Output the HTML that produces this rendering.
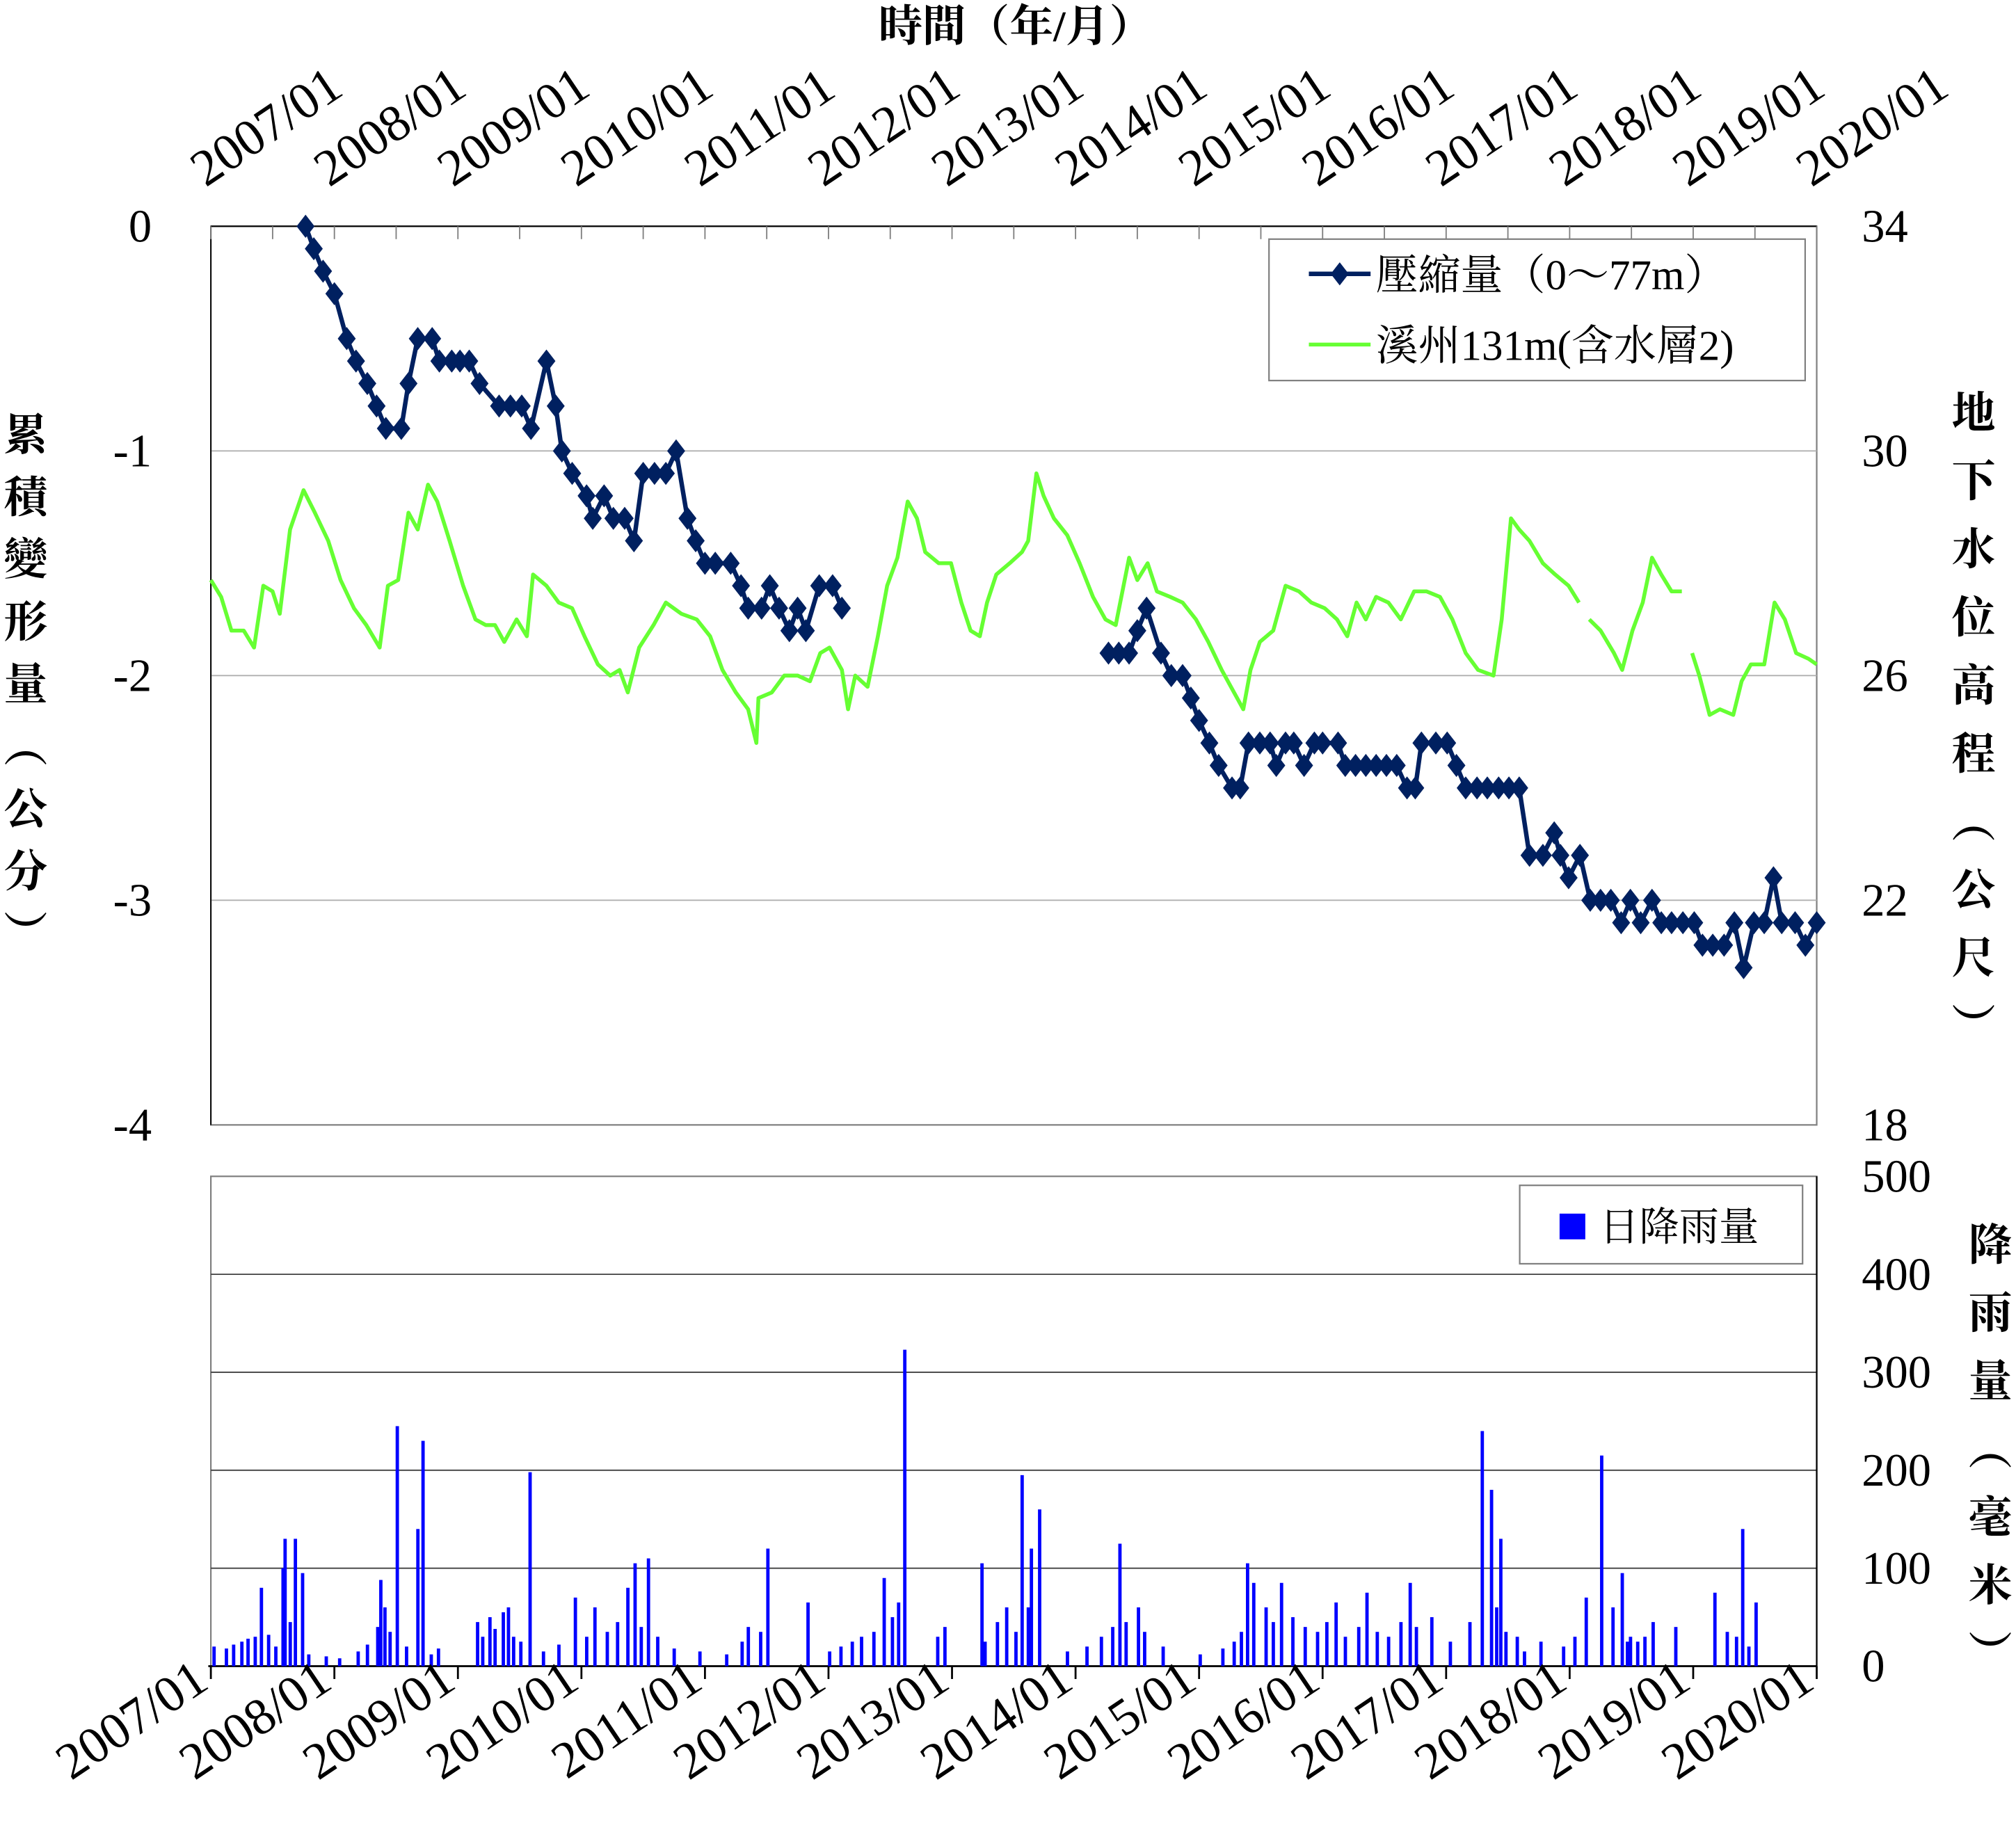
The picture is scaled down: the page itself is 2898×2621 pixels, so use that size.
<!DOCTYPE html>
<html><head><meta charset="utf-8"><style>
html,body{margin:0;padding:0;background:#fff;}
svg{display:block;}
</style></head><body>
<svg id="chart" width="2898" height="2621" viewBox="0 0 1568 1418" preserveAspectRatio="none" xmlns="http://www.w3.org/2000/svg" font-family="'Liberation Serif', 'Noto Serif CJK SC', serif">
<rect x="0" y="0" width="1568" height="1418" fill="#fff"/>
<g id="g"></g>
</svg>
<script>
// ---- data ----
const yearLabels = ["2007/01","2008/01","2009/01","2010/01","2011/01","2012/01","2013/01","2014/01","2015/01","2016/01","2017/01","2018/01","2019/01","2020/01"];
const leftTicks = [0,-1,-2,-3,-4];
const rightTicks = [34,30,26,22,18];
const rainTicks = [500,400,300,200,100,0];
const compMonths = [9.2,10,10.9,12,13.2,14.1,15.2,16.1,17,18.5,19.2,20.1,21.5,22.2,23.4,24.2,25.1,26.1,28,29.1,30.2,31.1,32.6,33.5,34.1,35.1,36.5,37.1,38.2,39.1,40.2,41.1,42,43.1,44.2,45.2,46.3,47.1,48,49,50.5,51.5,52.2,53.5,54.3,55.2,56.2,57,57.8,59.1,60.4,61.3,null,
87.2,88.2,89.2,90,90.9,92.3,93.3,94.4,95.2,96,97,97.9,99.2,100,100.8,101.9,102.9,103.5,104.4,105.2,106.2,107.2,108,109.5,110.2,111.2,112.2,113.2,114.2,115.2,116.2,117,117.6,119,120.1,121,121.9,123,124,125.1,126.1,127.1,128.1,129.4,130.5,131.1,131.9,133,134,135,136,137,137.9,138.9,140,140.9,141.9,143,144.1,144.9,145.9,147,148,148.9,149.9,150.9,151.8,152.6,153.9,154.9,156];
const compValues = [0,-0.1,-0.2,-0.3,-0.5,-0.6,-0.7,-0.8,-0.9,-0.9,-0.7,-0.5,-0.5,-0.6,-0.6,-0.6,-0.6,-0.7,-0.8,-0.8,-0.8,-0.9,-0.6,-0.8,-1.0,-1.1,-1.2,-1.3,-1.2,-1.3,-1.3,-1.4,-1.1,-1.1,-1.1,-1.0,-1.3,-1.4,-1.5,-1.5,-1.5,-1.6,-1.7,-1.7,-1.6,-1.7,-1.8,-1.7,-1.8,-1.6,-1.6,-1.7,null,
-1.9,-1.9,-1.9,-1.8,-1.7,-1.9,-2.0,-2.0,-2.1,-2.2,-2.3,-2.4,-2.5,-2.5,-2.3,-2.3,-2.3,-2.4,-2.3,-2.3,-2.4,-2.3,-2.3,-2.3,-2.4,-2.4,-2.4,-2.4,-2.4,-2.4,-2.5,-2.5,-2.3,-2.3,-2.3,-2.4,-2.5,-2.5,-2.5,-2.5,-2.5,-2.5,-2.8,-2.8,-2.7,-2.8,-2.9,-2.8,-3.0,-3.0,-3.0,-3.1,-3.0,-3.1,-3.0,-3.1,-3.1,-3.1,-3.1,-3.2,-3.2,-3.2,-3.1,-3.3,-3.1,-3.1,-2.9,-3.1,-3.1,-3.2,-3.1];
const gwMonths = [0,1,2,3.2,4.2,5.1,6,6.7,7.7,9,10.1,11.4,12.6,13.9,15.1,16.4,17.2,18.2,19.2,20.1,21.1,22,23.2,24.5,25.7,26.7,27.6,28.5,29.7,30.7,31.3,32.6,33.8,35.1,36.3,37.6,38.8,39.7,40.5,41.6,43,44.2,45.7,47.2,48.5,49.7,51,52.2,53,53.2,54.5,55.7,57,58.2,59.2,60.1,61.3,61.9,62.6,63.8,64.8,65.7,66.7,67.7,68.6,69.4,70.7,71.9,72.9,73.8,74.7,75.4,76.3,77.6,78.8,79.4,80.2,80.9,81.9,83.2,84.4,85.7,86.9,87.9,89.2,90,91,91.9,93.2,94.4,95.7,96.9,98.2,99.4,100.3,101,101.9,103.2,104.4,105.7,106.9,108.2,109.4,110.4,111.3,112.2,113.2,114.4,115.6,116.9,118.1,119.4,120.6,121.9,123.1,124.6,125.4,126.3,127.1,128.1,129.4,130.6,131.9,132.9,null,133.9,135,136.3,137.1,138.1,139.1,140,140.9,141.9,142.9,null,143.9,144.6,145.6,146.6,147.9,148.7,149.6,150.9,151.9,152.9,154,155.2,156];
const gwValues = [27.7,27.4,26.8,26.8,26.5,27.6,27.5,27.1,28.6,29.3,28.9,28.4,27.7,27.2,26.9,26.5,27.6,27.7,28.9,28.6,29.4,29.1,28.4,27.6,27.0,26.9,26.9,26.6,27.0,26.7,27.8,27.6,27.3,27.2,26.7,26.2,26.0,26.1,25.7,26.5,26.9,27.3,27.1,27.0,26.7,26.1,25.7,25.4,24.8,25.6,25.7,26.0,26.0,25.9,26.4,26.5,26.1,25.4,26.0,25.8,26.7,27.6,28.1,29.1,28.8,28.2,28.0,28.0,27.3,26.8,26.7,27.3,27.8,28.0,28.2,28.4,29.6,29.2,28.8,28.5,28.0,27.4,27.0,26.9,28.1,27.7,28.0,27.5,27.4,27.3,27.0,26.6,26.1,25.7,25.4,26.1,26.6,26.8,27.6,27.5,27.3,27.2,27.0,26.7,27.3,27.0,27.4,27.3,27.0,27.5,27.5,27.4,27.0,26.4,26.1,26.0,27.0,28.8,28.6,28.4,28.0,27.8,27.6,27.3,null,27.0,26.8,26.4,26.1,26.8,27.3,28.1,27.8,27.5,27.5,null,26.4,26.0,25.3,25.4,25.3,25.9,26.2,26.2,27.3,27.0,26.4,26.3,26.2];
const rainMonths = [0.3,1.5,2.2,3,3.6,4.3,4.9,5.6,6.3,7.0,7.2,7.7,8.2,8.9,9.5,11.2,12.5,14.3,15.2,16.2,16.5,16.9,17.4,18.1,19.0,20.1,20.6,21.4,22.1,25.9,26.4,27.1,27.6,28.4,28.9,29.4,30.1,31.0,32.3,33.8,35.4,36.5,37.3,38.5,39.5,40.5,41.2,41.8,42.5,43.4,45,47.5,50.1,51.6,52.2,53.4,54.1,58.0,60.1,61.2,62.3,63.2,64.4,65.4,66.2,66.8,67.4,70.6,71.3,75.2,74.9,76.4,77.3,78.2,78.8,79.4,79.7,80.5,83.2,85.1,86.5,87.6,88.3,88.9,90.1,90.7,92.5,96.1,98.3,99.4,100.1,100.7,101.3,102.5,103.2,104.0,105.1,106.3,107.5,108.4,109.3,110.2,111.5,112.3,113.3,114.4,115.6,116.5,117.1,118.6,120.4,122.3,123.5,124.4,124.9,125.3,125.8,126.9,127.6,129.2,131.4,132.5,133.6,135.1,136.2,137.1,137.6,137.9,138.6,139.3,140.1,142.3,146.1,147.3,148.2,148.8,149.4,150.1,150.8,151.4,152.0,155.6];
const rainValues = [20,18,22,25,28,30,80,32,20,100,130,45,130,95,12,10,8,15,22,40,88,60,35,245,20,140,230,12,18,45,30,50,38,55,60,30,25,198,15,22,70,30,60,35,45,80,105,40,110,30,18,15,12,25,40,35,120,65,15,20,25,30,35,90,50,65,323,30,40,25,105,45,60,35,195,60,120,160,15,20,30,40,125,45,60,35,20,12,18,25,35,105,85,60,45,85,50,40,35,45,65,30,40,75,35,30,45,85,40,50,25,45,240,180,60,130,35,30,15,25,20,30,70,215,60,95,25,30,25,30,45,40,75,35,30,140,20,65];

const X0=164, X1=1413, NM=156;
const xs = m => X0 + (X1-X0)*m/NM;
const yL = v => 176 + (0-v)*(875-176)/4;
const yR = v => 176 + (34-v)*(875-176)/16;
const yRain = v => 1296 - v*(1296-915)/500;
const NS="http://www.w3.org/2000/svg";
const FONT="'Liberation Serif', 'Noto Serif CJK SC', serif";
const g=document.getElementById('g');
function el(tag, attrs, parent){const e=document.createElementNS(NS,tag);for(const k in attrs)e.setAttribute(k,attrs[k]);(parent||g).appendChild(e);return e;}
function txt(s, attrs, parent){attrs['font-family']=FONT;attrs.fill='#000';const e=el('text',attrs,parent);e.textContent=s;return e;}

const topFrame=el('rect',{x:X0,y:176,width:X1-X0,height:699,fill:'none',stroke:'#808080','stroke-width':1.2});


[-1,-2,-3].forEach(v=>{
  const l=el('line',{x1:X0,x2:X1,y1:yL(v),y2:yL(v),stroke:'#b0b0b0','stroke-width':1});
  
  
});
el('line',{x1:X0,x2:X1,y1:176,y2:176,stroke:'#000','stroke-width':1.2});
el('line',{x1:X0,x2:X0,y1:176,y2:875,stroke:'#000','stroke-width':1});
for(let m=0;m<=NM;m+=6){
  const t=el('line',{x1:xs(m),x2:xs(m),y1:176,y2:186,stroke:'#808080','stroke-width':1});
  
  
}
yearLabels.forEach((s,i)=>{
  const x=xs(i*12), y=146;
  const t=txt(s,{x:x-4,y:y,'font-size':40,transform:`rotate(-34 ${x-4} ${y})`});
  
  
});
leftTicks.forEach(v=>{
  const t=txt(String(v),{x:118,y:yL(v)+12,'font-size':36,'text-anchor':'end'});
  
  
});
rightTicks.forEach(v=>{
  const t=txt(String(v),{x:1448,y:yR(v)+12,'font-size':36});
  
  
});

function pathFrom(ms,vs,ysc){let d='',pen=false;for(let i=0;i<ms.length;i++){if(ms[i]===null||vs[i]===null){pen=false;continue;}d+=(pen?'L':'M')+xs(ms[i]).toFixed(1)+','+ysc(vs[i]).toFixed(1);pen=true;}return d;}
const gw=el('path',{d:pathFrom(gwMonths,gwValues,yR),fill:'none',stroke:'#66ff33','stroke-width':3,'stroke-linejoin':'round'});


const cp=el('path',{d:pathFrom(compMonths,compValues,yL),fill:'none',stroke:'#002060','stroke-width':3.5,'stroke-linejoin':'round'});


for(let i=0;i<compMonths.length;i++){
  if(compMonths[i]===null)continue;
  const x=xs(compMonths[i]), y=yL(compValues[i]);
  const p=el('polygon',{points:`${x},${y-9} ${x+7},${y} ${x},${y+9} ${x-7},${y}`,fill:'#002060'});
  
  
}

const lg=el('g',{});


el('rect',{x:987,y:186,width:417,height:110,fill:'#fff',stroke:'#808080','stroke-width':1.2},lg);
el('line',{x1:1018,x2:1066,y1:213,y2:213,stroke:'#002060','stroke-width':3.5},lg);
el('polygon',{points:'1042,204 1049,213 1042,222 1035,213',fill:'#002060'},lg);
txt('壓縮量（0～77m）',{x:1070,y:225,'font-size':33},lg);
el('line',{x1:1018,x2:1066,y1:268,y2:268,stroke:'#66ff33','stroke-width':3},lg);
txt('溪州131m(含水層2)',{x:1070,y:280,'font-size':33},lg);

const bf=el('rect',{x:X0,y:915,width:X1-X0,height:381,fill:'none',stroke:'#808080','stroke-width':1.2});


[100,200,300,400].forEach(v=>{
  const l=el('line',{x1:X0,x2:X1,y1:yRain(v),y2:yRain(v),stroke:'#404040','stroke-width':1});
  
  
});
el('line',{x1:X1,x2:X1,y1:915,y2:1296,stroke:'#000','stroke-width':1.2});
el('line',{x1:X0-2,x2:X1,y1:1296,y2:1296,stroke:'#000','stroke-width':1.5});
rainTicks.forEach(v=>{
  const t=txt(String(v),{x:1448,y:yRain(v)+12,'font-size':36});
  
  
});
for(let i=0;i<=13;i++){
  const t=el('line',{x1:xs(i*12),x2:xs(i*12),y1:1296,y2:1306,stroke:'#000','stroke-width':1.5});
  
  
}
for(let i=0;i<rainMonths.length;i++){
  const x=xs(rainMonths[i]);
  const b=el('rect',{x:x-1.2,y:yRain(rainValues[i]),width:2.6,height:1296-yRain(rainValues[i]),fill:'#0000ff'});
  
  
}
yearLabels.forEach((s,i)=>{
  const x=xs(i*12), y=1312;
  const t=txt(s,{x:x,y:y,'font-size':40,'text-anchor':'end',transform:`rotate(-34 ${x} ${y})`});
  
  
});
const rl=el('g',{});


el('rect',{x:1182,y:922,width:220,height:61,fill:'#fff',stroke:'#808080','stroke-width':1.2},rl);
el('rect',{x:1213,y:944,width:20,height:20,fill:'#0000ff'},rl);
txt('日降雨量',{x:1244,y:965,'font-size':31},rl);

function vtext(chars,x,y0,dy,name){
  const gg=el('g',{});
  
  
  Array.from(chars).forEach((c,i)=>{txt(c,{x:x,y:y0+i*dy,'font-size':34,'font-weight':'bold','text-anchor':'middle'},gg);});
}
vtext('累積變形量︵公分︶',20,350,48.5,'left-y-axis-title');
vtext('地下水位高程︵公尺︶',1535,333,53,'right-y-axis-title');
vtext('降雨量︵毫米︶',1548,980,53,'rain-y-axis-title');
const tt=txt('時間（年/月）',{x:790,y:32,'font-size':34,'font-weight':'bold','text-anchor':'middle'});


</script>
</body></html>
